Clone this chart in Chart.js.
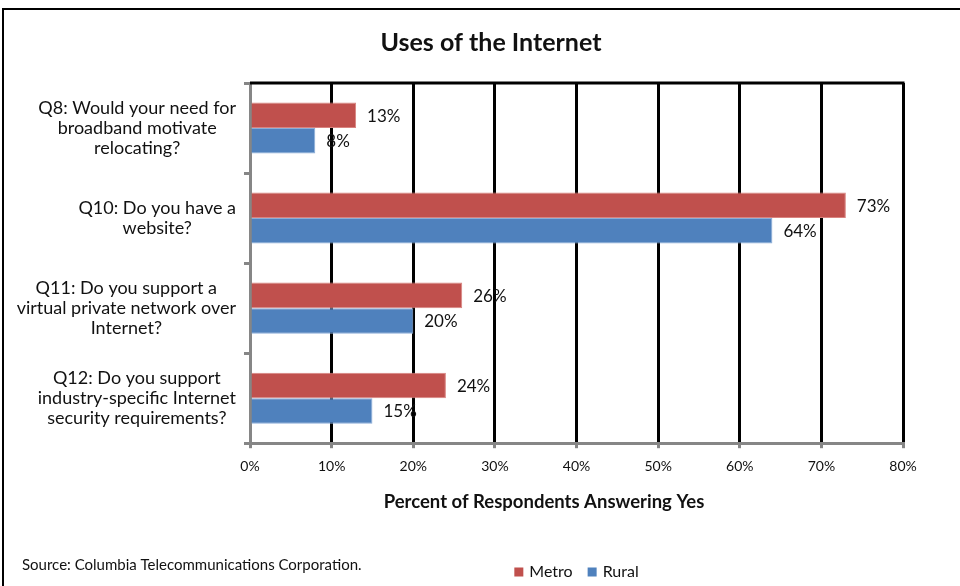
<!DOCTYPE html>
<html>
<head>
<meta charset="utf-8">
<title>Uses of the Internet</title>
<script src="https://cdn.jsdelivr.net/npm/chart.js@4.4.0/dist/chart.umd.min.js"></script>
<style>
    html, body { margin: 0; padding: 0; background: #fff; }
    #wrap { width: 960px; height: 586px; position: relative; }
</style>
</head>
<body>
<div id="wrap"><canvas id="usesChart" width="960" height="586"></canvas></div>
<script>
// survey questions, one entry per category (lines of the wrapped label)
const questions = [
    ['Q8: Would your need for', 'broadband motivate', 'relocating?'],
    ['Q10: Do you have a', 'website?'],
    ['Q11: Do you support a', 'virtual private network over', 'Internet?'],
    ['Q12: Do you support', 'industry-specific Internet', 'security requirements?']
];
const seriesNames = ['Metro', 'Rural'];
const metroValues = [13, 73, 26, 24];
const ruralValues = [8, 64, 20, 15];
const xTickValues = [0, 10, 20, 30, 40, 50, 60, 70, 80];

const RED = '#C0504D';
const BLUE = '#4F81BD';
const AXIS_GRAY = '#868686';
const FONT = 'Lato, "Open Sans", sans-serif';

// question text, centred per block, right edge just left of the axis
const questionLabels = {
    id: 'questionLabels',
    afterDraw(chart) {
        const ctx = chart.ctx;
        const yScale = chart.scales.y;
        const right = chart.chartArea.left - 14;
        const lineHeight = 20;
        ctx.save();
        ctx.font = '18px ' + FONT;
        ctx.fillStyle = '#111';
        ctx.textAlign = 'center';
        ctx.textBaseline = 'middle';
        questions.forEach((lines, i) => {
            const widest = Math.max(...lines.map(l => ctx.measureText(l).width));
            const cx = right - widest / 2;
            const cy = yScale.getPixelForValue(i);
            lines.forEach((line, j) => {
                ctx.fillText(line, cx, cy + (j - (lines.length - 1) / 2) * lineHeight);
            });
        });
        ctx.restore();
    }
};

// "nn%" next to the end of every bar
const valueLabels = {
    id: 'valueLabels',
    afterDatasetsDraw(chart) {
        const ctx = chart.ctx;
        ctx.save();
        ctx.font = '17px ' + FONT;
        ctx.fillStyle = '#111';
        ctx.textAlign = 'left';
        ctx.textBaseline = 'middle';
        chart.data.datasets.forEach((ds, d) => {
            chart.getDatasetMeta(d).data.forEach((bar, i) => {
                ctx.fillText(ds.data[i] + '%', bar.x + 11, bar.y + 1);
            });
        });
        ctx.restore();
    }
};

// black line along the top of the plot area
const plotTop = {
    id: 'plotTop',
    beforeDatasetsDraw(chart) {
        const a = chart.chartArea;
        const ctx = chart.ctx;
        ctx.save();
        ctx.strokeStyle = '#000';
        ctx.lineWidth = 3;
        ctx.beginPath();
        ctx.moveTo(a.left, a.top);
        ctx.lineTo(a.right + 1.5, a.top);
        ctx.stroke();
        ctx.restore();
    }
};

// title, axis title, source note, legend and the outer frame
const decorations = {
    id: 'decorations',
    afterDraw(chart) {
        const ctx = chart.ctx;
        const a = chart.chartArea;
        ctx.save();
        ctx.fillStyle = '#111';
        ctx.textBaseline = 'middle';

        ctx.textAlign = 'center';
        ctx.font = 'bold 25px ' + FONT;
        ctx.fillText('Uses of the Internet', 491, 43);

        ctx.font = 'bold 18.5px ' + FONT;
        ctx.fillText('Percent of Respondents Answering Yes', 544, 502);

        ctx.textAlign = 'left';
        ctx.font = '15px ' + FONT;
        ctx.fillText('Source: Columbia Telecommunications Corporation.', 22, 565);

        // legend, centred under the plot area
        ctx.font = '16px ' + FONT;
        const colors = [RED, BLUE];
        const box = 9, gap = 6, spacing = 15;
        const widths = seriesNames.map(n => ctx.measureText(n).width);
        let total = 0;
        widths.forEach(w => { total += box + gap + w; });
        total += spacing * (seriesNames.length - 1);
        let x = (a.left + a.right) / 2 - total / 2;
        const ly = 572;
        seriesNames.forEach((name, i) => {
            ctx.fillStyle = colors[i];
            ctx.fillRect(x, ly - box / 2, box, box);
            ctx.fillStyle = '#111';
            ctx.fillText(name, x + box + gap, ly);
            x += box + gap + widths[i] + spacing;
        });

        ctx.strokeStyle = '#000';
        ctx.lineWidth = 2;
        ctx.beginPath();
        ctx.moveTo(3, 586);
        ctx.lineTo(3, 9);
        ctx.lineTo(960, 9);
        ctx.stroke();
        ctx.restore();
    }
};

const ctx = document.getElementById('usesChart').getContext('2d');

window.chart = new Chart(ctx, {
    type: 'bar',
    data: {
        labels: questions.map(q => q.join(' ')),
        datasets: [{
            label: seriesNames[0],
            data: metroValues,
            backgroundColor: RED,
            borderColor: '#D9837F',
            borderWidth: 1
        }, {
            label: seriesNames[1],
            data: ruralValues,
            backgroundColor: BLUE,
            borderColor: '#8AADD8',
            borderWidth: 1
        }]
    },
    options: {
        indexAxis: 'y',
        responsive: false,
        animation: false,
        events: [],
        layout: {
            padding: { left: 244, right: 57, top: 83, bottom: 101 }
        },
        datasets: {
            bar: { categoryPercentage: 0.567, barPercentage: 1 }
        },
        scales: {
            x: {
                min: 0,
                max: 80,
                afterBuildTicks(scale) {
                    scale.ticks = xTickValues.map(v => ({ value: v }));
                },
                ticks: {
                    padding: 10,
                    color: '#111',
                    font: { family: FONT, size: 14 },
                    callback: v => v + '%'
                },
                grid: {
                    color: c => (c.tick && c.tick.value === 0 ? 'rgba(0,0,0,0)' : '#000'),
                    lineWidth: 3,
                    tickColor: AXIS_GRAY,
                    tickLength: 5,
                    tickWidth: 3
                },
                border: { color: AXIS_GRAY, width: 3 }
            },
            y: {
                ticks: { display: false },
                grid: {
                    offset: true,
                    drawOnChartArea: false,
                    tickColor: AXIS_GRAY,
                    tickLength: 6,
                    tickWidth: 3
                },
                border: { color: AXIS_GRAY, width: 3 }
            }
        },
        plugins: {
            legend: { display: false },
            title: { display: false },
            tooltip: { enabled: false }
        }
    },
    plugins: [plotTop, valueLabels, questionLabels, decorations]
});
</script>
</body>
</html>
